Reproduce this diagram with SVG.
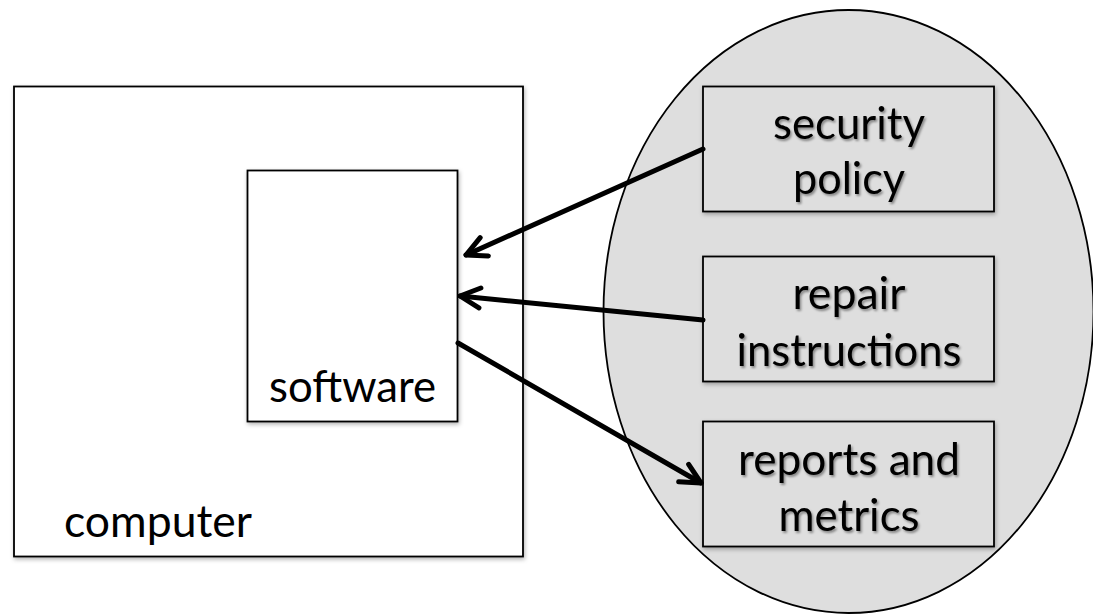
<svg xmlns="http://www.w3.org/2000/svg" width="1093" height="616" viewBox="0 0 1093 616">
  <defs>
    <filter id="shadow" x="-10%" y="-10%" width="120%" height="120%">
      <feDropShadow dx="1" dy="2" stdDeviation="2" flood-color="#000" flood-opacity="0.3"/>
    </filter>
    <filter id="tshadow" x="-10%" y="-20%" width="120%" height="140%">
      <feDropShadow dx="1.5" dy="2" stdDeviation="1.3" flood-color="#000" flood-opacity="0.4"/>
    </filter>
    <marker id="open" markerUnits="userSpaceOnUse" markerWidth="44" markerHeight="44" viewBox="-32 -22 44 44" refX="0" refY="0" orient="auto">
      <path d="M-20,-10 L0,0 L-20,10" fill="none" stroke="#000" stroke-width="5" stroke-linecap="round" stroke-linejoin="round"/>
    </marker>
    <style>
      .box { fill: #ffffff; stroke: #000; stroke-width: 1.8; filter: url(#shadow); }
      .gbox { fill: #dedede; stroke: #000; stroke-width: 1.8; filter: url(#shadow); }
      .lbl { font-family: Lato, "Open Sans", "Liberation Sans", sans-serif; font-size: 44px; fill: #000; }
      .glbl { font-family: Lato, "Open Sans", "Liberation Sans", sans-serif; font-size: 44px; fill: #000; text-anchor: middle; filter: url(#tshadow); }
      .conn { fill: none; stroke: #000; stroke-width: 5; stroke-linecap: round; marker-end: url(#open); }
    </style>
  </defs>
  <rect width="1093" height="616" fill="#ffffff"/>

  <g id="cloud">
    <ellipse cx="848.5" cy="311.5" rx="245" ry="301.5" fill="#dedede" stroke="#000" stroke-width="1.8"/>
  </g>

  <g id="computer">
    <rect class="box" x="14" y="86.5" width="509" height="470"/>
    <text class="lbl" x="64" y="537" textLength="188" lengthAdjust="spacingAndGlyphs">computer</text>
  </g>

  <g id="software">
    <rect class="box" x="247.5" y="170.5" width="210" height="251"/>
    <text class="lbl" x="352.5" y="402" text-anchor="middle" textLength="167" lengthAdjust="spacingAndGlyphs">software</text>
  </g>

  <g id="security-policy">
    <rect class="gbox" x="703" y="86.5" width="291" height="125"/>
    <text class="glbl" x="849" y="139" textLength="152" lengthAdjust="spacingAndGlyphs">security</text>
    <text class="glbl" x="849" y="194" textLength="112" lengthAdjust="spacingAndGlyphs">policy</text>
  </g>

  <g id="repair-instructions">
    <rect class="gbox" x="703" y="256.5" width="291" height="125"/>
    <text class="glbl" x="849" y="309" textLength="113" lengthAdjust="spacingAndGlyphs">repair</text>
    <text class="glbl" x="849" y="366" textLength="225" lengthAdjust="spacingAndGlyphs">instructions</text>
  </g>

  <g id="reports-metrics">
    <rect class="gbox" x="703" y="421.5" width="291" height="125"/>
    <text class="glbl" x="849" y="475" textLength="222" lengthAdjust="spacingAndGlyphs">reports and</text>
    <text class="glbl" x="849" y="531" textLength="141" lengthAdjust="spacingAndGlyphs">metrics</text>
  </g>

  <g id="connectors">
    <line class="conn" x1="703" y1="149" x2="466" y2="255"/>
    <line class="conn" x1="703" y1="320" x2="460" y2="296"/>
    <line class="conn" x1="458" y1="343" x2="701" y2="483"/>
  </g>
</svg>
